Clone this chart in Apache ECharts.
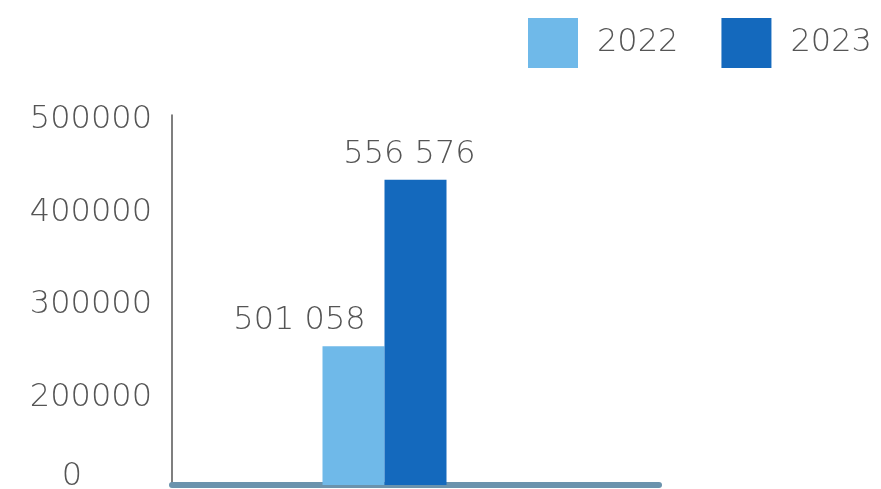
<!DOCTYPE html>
<html><head><meta charset="utf-8">
<script src="https://cdn.jsdelivr.net/npm/echarts@6/dist/echarts.min.js"></script>
<style>html,body{margin:0;padding:0;background:#fff}#c{width:881px;height:489px}</style>
</head><body><div id="c"></div>
<script>
const categories = ['Total'];
const seriesNames = ['2022', '2023'];
const values2022 = [250000];
const values2023 = [430000];
const valueLabels2022 = ['501 058'];
const valueLabels2023 = ['556 576'];
const yTicks = [100000, 200000, 300000, 400000, 500000];
const yTickLabels = ['0', '200000', '300000', '400000', '500000'];

const FONT = '"DejaVu Sans"';
const FW = 200;
const FS = 32;
const TXT = '#555';
const tok = {fontSize: FS, fontWeight: FW, color: TXT, fontFamily: FONT};
const chart = echarts.init(document.getElementById('c'));
chart.setOption({
  animation: false,
  textStyle: {fontFamily: FONT},
  legend: {
    top: 13, left: 523,
    itemWidth: 50, itemHeight: 50, itemGap: 43,
    icon: 'rect',
    textStyle: {fontSize: FS, fontWeight: FW, color: TXT, fontFamily: FONT, padding: [0, 0, 0, 14]},
    data: seriesNames
  },
  grid: {left: 172, right: 222, top: 115, bottom: 4, containLabel: false, outerBoundsMode: 'none'},
  xAxis: {
    type: 'category', data: categories,
    axisLine: {show: true, lineStyle: {color: '#6b93ad', width: 6}},
    axisTick: {show: false}, axisLabel: {show: false}
  },
  yAxis: {
    type: 'value', min: yTicks[0], max: yTicks[yTicks.length - 1], interval: 100000,
    splitLine: {show: false},
    axisTick: {show: false},
    axisLine: {show: true, lineStyle: {color: '#555', width: 1.5}},
    axisLabel: {
      margin: 20, fontSize: FS, fontWeight: FW, color: TXT, fontFamily: FONT,
      formatter: v => {
        const i = yTicks.indexOf(v);
        const t = i >= 0 ? yTickLabels[i] : '';
        return t === '0' ? '{z|0}' : '{v|' + t + '}';
      },
      rich: {
        v: Object.assign({padding: [10, 0, 0, 0]}, tok),
        z: Object.assign({padding: [0, 70, 16, 0]}, tok)
      }
    }
  },
  series: [
    {
      name: seriesNames[0], type: 'bar', data: values2022, barWidth: 62, barGap: '0%',
      itemStyle: {color: '#6fb9e9'},
      label: {show: true, position: 'top', distance: 10, offset: [-54, 0], fontSize: FS, fontWeight: FW, color: TXT, fontFamily: FONT,
        formatter: p => valueLabels2022[p.dataIndex]}
    },
    {
      name: seriesNames[1], type: 'bar', data: values2023, barWidth: 62, barGap: '0%',
      itemStyle: {color: '#1469bd'},
      label: {show: true, position: 'top', distance: 9, offset: [-6, 0], fontSize: FS, fontWeight: FW, color: TXT, fontFamily: FONT,
        formatter: p => valueLabels2023[p.dataIndex]}
    },
    {
      name: 'spacer', type: 'bar', data: [null], barWidth: 62, barGap: '0%', silent: true
    }
  ]
});
</script></body></html>
